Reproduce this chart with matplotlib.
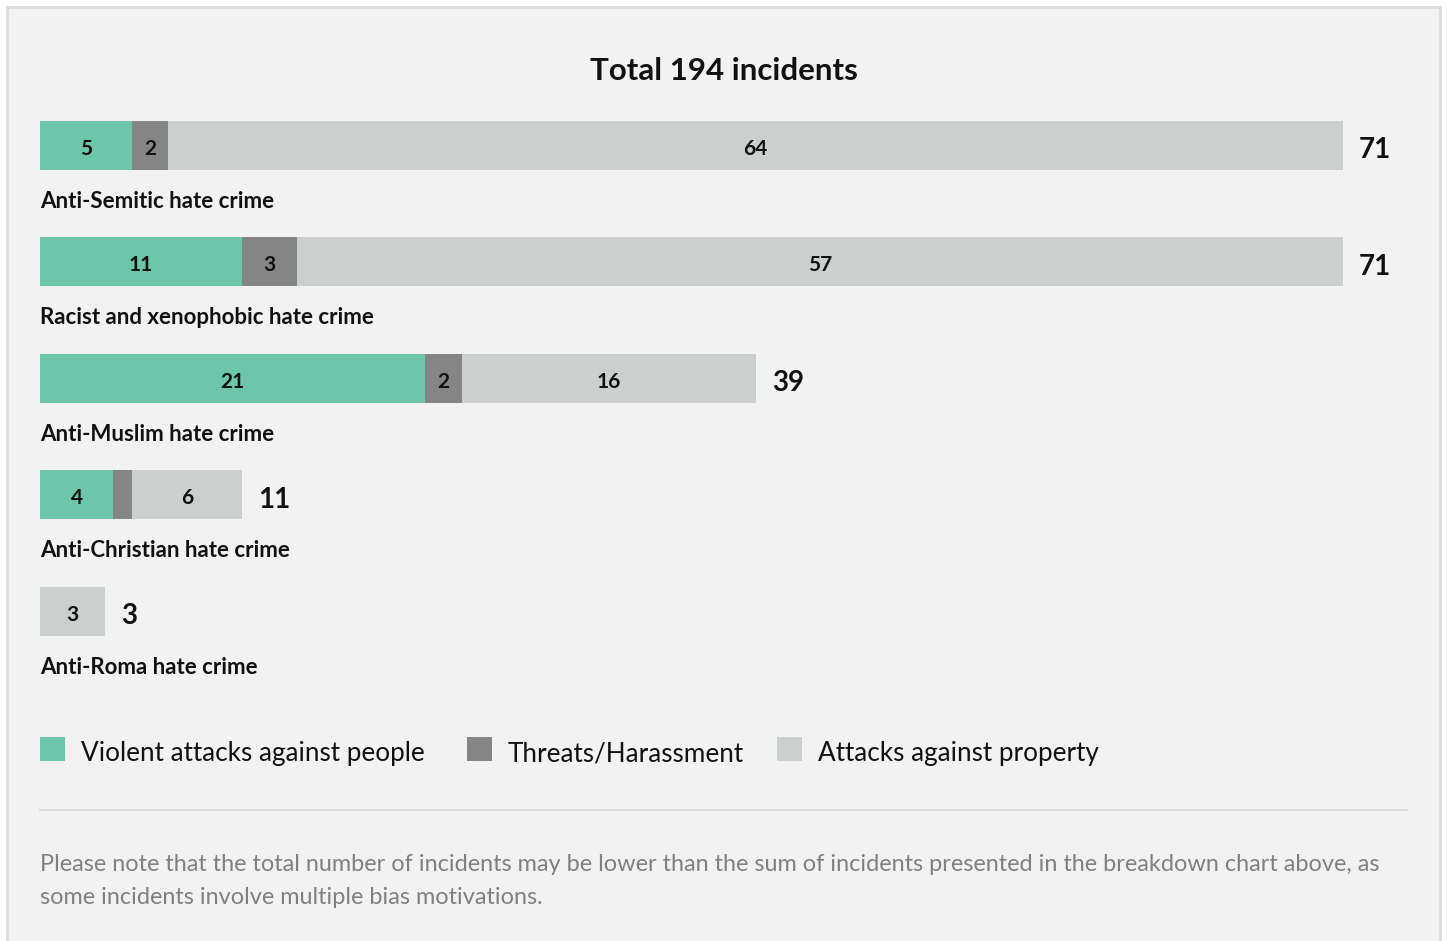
import numpy as np
import matplotlib
matplotlib.use('Agg')
import matplotlib.pyplot as plt
from matplotlib.patches import Rectangle
from matplotlib.lines import Line2D

plt.rcParams['font.family'] = ['Lato', 'DejaVu Sans']

categories = ['Anti-Semitic hate crime', 'Racist and xenophobic hate crime',
              'Anti-Muslim hate crime', 'Anti-Christian hate crime', 'Anti-Roma hate crime']
violent = [5, 11, 21, 4, 0]
threats = [2, 3, 2, 1, 0]
property_ = [64, 57, 16, 6, 3]
series_names = ['Violent attacks against people', 'Threats/Harassment', 'Attacks against property']
colors = ['#6dc5aa', '#858585', '#cbcfce']
title = 'Total 194 incidents'
note = ('Please note that the total number of incidents may be lower than the sum of incidents presented in the breakdown chart above, as\n'
        'some incidents involve multiple bias motivations.')

W, H = 1447, 941
fig = plt.figure(figsize=(W / 100, H / 100), dpi=100, facecolor='white')

# panel background with border
fig.patches.append(Rectangle((7 / W, -0.01), 1433 / W, 1 - 7 / H + 0.01, transform=fig.transFigure,
                             facecolor='#f2f2f2', edgecolor='#dcdcdc', linewidth=2, zorder=-5))

# bar axes: x 0..71 -> px 40..1343, rows spaced 116.5 px starting at 87
row_h = 116.5
top = 87
ax = fig.add_axes([40 / W, 1 - (top + 5 * row_h) / H, 1303 / W, 5 * row_h / H])
ax.set_xlim(0, 71)
ax.set_ylim(4.5, -0.5)
ax.axis('off')
ax.patch.set_alpha(0)

min_width = 3.55  # very short bars are drawn a bit wider so the label fits
y = np.arange(len(categories))
data = np.array([violent, threats, property_], dtype=float)
totals = data.sum(axis=0)
stretch = np.maximum(totals, min_width) / totals
left = np.zeros(len(categories))
for vals, c in zip(data, colors):
    widths = vals * stretch
    ax.barh(y, widths, left=left, height=49 / row_h, color=c, linewidth=0)
    for i, v in enumerate(vals):
        if v >= 2:
            ax.text(left[i] + widths[i] / 2, y[i] + 0.03, f'{int(v)}', ha='center', va='center',
                    fontsize=15, fontweight='bold', color='#111111')
    left += widths

for i, cat in enumerate(categories):
    ax.text(0, y[i] + 0.48, cat, ha='left', va='center', fontsize=16, fontweight='bold',
            color='#111111', clip_on=False)
    ax.annotate(f'{int(totals[i])}', (left[i], y[i]), xytext=(16, -5), textcoords='offset pixels',
                ha='left', va='center', fontsize=20, fontweight='bold', color='#111111',
                annotation_clip=False)

fig.text(724 / W, 1 - 71 / H, title, ha='center', va='center', fontsize=22.5, fontweight='bold',
         color='#111111')

# legend
leg_x = [40, 467, 777]
for lx, name, c in zip(leg_x, series_names, colors):
    fig.patches.append(Rectangle((lx / W, 1 - 761 / H), 25 / W, 24 / H, transform=fig.transFigure,
                                 facecolor=c, edgecolor='none'))
    fig.text((lx + 41) / W, 1 - 754 / H, name, ha='left', va='center', fontsize=18.8, color='#111111')

fig.lines.append(Line2D([40 / W, 1407 / W], [1 - 810 / H, 1 - 810 / H], transform=fig.transFigure,
                        color='#dcdcdc', linewidth=1.5))

fig.text(40 / W, 1 - 881 / H, note, ha='left', va='center', fontsize=16.9, color='#808080',
         linespacing=1.68)

fig.savefig('out.png', dpi=100, facecolor='white')
